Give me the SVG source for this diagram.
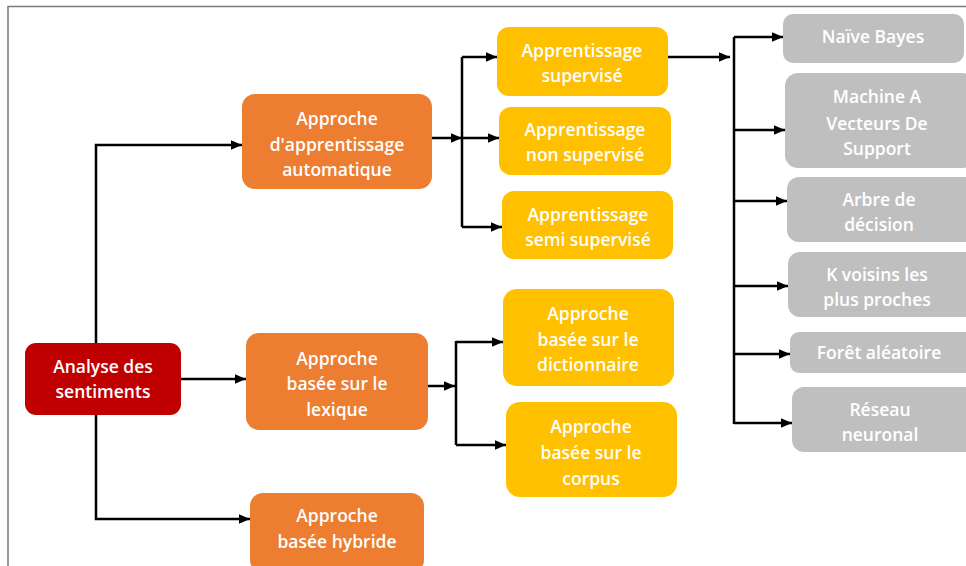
<svg xmlns="http://www.w3.org/2000/svg" width="966" height="566" viewBox="0 0 966 566">
  <defs>
    <marker id="arrow" viewBox="0 0 10 10" refX="10" refY="5" markerWidth="4.4" markerHeight="3.8" markerUnits="strokeWidth" orient="auto" preserveAspectRatio="none">
      <path d="M0,0 L10,5 L0,10 z" fill="#000"/>
    </marker>
    <style>
      .frame { fill: none; stroke: #7a7a7a; stroke-width: 1.5; }
      .root { fill: #C00000; }
      .orange { fill: #ED7D31; }
      .yellow { fill: #FFC000; }
      .gray { fill: #BFBFBF; }
      .lbl { fill: #fff; font-family: "Open Sans", "Noto Sans", sans-serif; font-size: 17.5px; font-weight: 600; text-anchor: middle; }
      .wire { fill: none; stroke: #000; stroke-width: 2.5; }
      .arr { marker-end: url(#arrow); }
    </style>
  </defs>

  <rect width="966" height="566" fill="#fff"/>
  <path class="frame" d="M8,566 V6.5 H966"/>

  <!-- connectors -->
  <g id="connectors">
    <!-- root to the three approaches -->
    <path class="wire arr" d="M96,343 V145 H242"/>
    <path class="wire arr" d="M181,379 H246"/>
    <path class="wire arr" d="M96,415 V519 H250"/>
    <!-- machine learning branch -->
    <path class="wire arr" d="M432,138 H462"/>
    <path class="wire" d="M462,57 V227"/>
    <path class="wire arr" d="M462,57 H497"/>
    <path class="wire arr" d="M462,138 H499"/>
    <path class="wire arr" d="M462,227 H502"/>
    <!-- lexicon branch -->
    <path class="wire arr" d="M428,386 H455"/>
    <path class="wire" d="M456,341 V445"/>
    <path class="wire arr" d="M456,342 H503"/>
    <path class="wire arr" d="M456,445 H506"/>
    <!-- supervised algorithms -->
    <path class="wire arr" d="M668,57 H730"/>
    <path class="wire" d="M734,37 V424"/>
    <path class="wire arr" d="M734,37 H783"/>
    <path class="wire arr" d="M734,130 H785"/>
    <path class="wire arr" d="M734,201 H787"/>
    <path class="wire arr" d="M734,286 H788"/>
    <path class="wire arr" d="M734,354 H790"/>
    <path class="wire arr" d="M734,423 H792"/>
  </g>

  <g id="analyse">
    <rect class="root" x="25" y="343" width="156" height="72" rx="11"/>
    <text class="lbl" x="103" y="373">Analyse des</text>
    <text class="lbl" x="103" y="398">sentiments</text>
  </g>

  <g id="automatique">
    <rect class="orange" x="242" y="94" width="190" height="95" rx="13"/>
    <text class="lbl" x="337" y="125">Approche</text>
    <text class="lbl" x="337" y="151">d'apprentissage</text>
    <text class="lbl" x="337" y="176">automatique</text>
  </g>

  <g id="lexique">
    <rect class="orange" x="246" y="333" width="182" height="97" rx="13"/>
    <text class="lbl" x="337" y="365">Approche</text>
    <text class="lbl" x="337" y="390">basée sur le</text>
    <text class="lbl" x="337" y="416">lexique</text>
  </g>

  <g id="hybride">
    <rect class="orange" x="250" y="493" width="174" height="80" rx="13"/>
    <text class="lbl" x="337" y="522">Approche</text>
    <text class="lbl" x="337" y="548">basée hybride</text>
  </g>

  <g id="supervise">
    <rect class="yellow" x="497" y="27" width="171" height="69" rx="12"/>
    <text class="lbl" x="582" y="57">Apprentissage</text>
    <text class="lbl" x="582" y="82">supervisé</text>
  </g>

  <g id="non-supervise">
    <rect class="yellow" x="499" y="107" width="172" height="68" rx="12"/>
    <text class="lbl" x="585" y="136">Apprentissage</text>
    <text class="lbl" x="585" y="161">non supervisé</text>
  </g>

  <g id="semi-supervise">
    <rect class="yellow" x="502" y="191" width="171" height="68" rx="12"/>
    <text class="lbl" x="588" y="221">Apprentissage</text>
    <text class="lbl" x="588" y="246">semi supervisé</text>
  </g>

  <g id="dictionnaire">
    <rect class="yellow" x="503" y="289" width="171" height="97" rx="14"/>
    <text class="lbl" x="588" y="320">Approche</text>
    <text class="lbl" x="588" y="346">basée sur le</text>
    <text class="lbl" x="588" y="371">dictionnaire</text>
  </g>

  <g id="corpus">
    <rect class="yellow" x="506" y="402" width="171" height="95" rx="14"/>
    <text class="lbl" x="591" y="433">Approche</text>
    <text class="lbl" x="591" y="459">basée sur le</text>
    <text class="lbl" x="591" y="485">corpus</text>
  </g>

  <g id="naive-bayes">
    <rect class="gray" x="783" y="14" width="181" height="49" rx="10"/>
    <text class="lbl" x="873" y="43">Naïve Bayes</text>
  </g>

  <g id="svm">
    <rect class="gray" x="785" y="73" width="190" height="95" rx="13"/>
    <text class="lbl" x="877" y="103">Machine A</text>
    <text class="lbl" x="877" y="130">Vecteurs De</text>
    <text class="lbl" x="877" y="155">Support</text>
  </g>

  <g id="arbre">
    <rect class="gray" x="787" y="177" width="190" height="65" rx="12"/>
    <text class="lbl" x="879" y="206">Arbre de</text>
    <text class="lbl" x="879" y="231">décision</text>
  </g>

  <g id="knn">
    <rect class="gray" x="788" y="252" width="190" height="65" rx="12"/>
    <text class="lbl" x="877" y="281">K voisins les</text>
    <text class="lbl" x="877" y="306">plus proches</text>
  </g>

  <g id="foret">
    <rect class="gray" x="790" y="332" width="190" height="41" rx="9"/>
    <text class="lbl" x="879" y="359">Forêt aléatoire</text>
  </g>

  <g id="reseau">
    <rect class="gray" x="792" y="387" width="190" height="65" rx="12"/>
    <text class="lbl" x="880" y="416">Réseau</text>
    <text class="lbl" x="880" y="441">neuronal</text>
  </g>
</svg>
